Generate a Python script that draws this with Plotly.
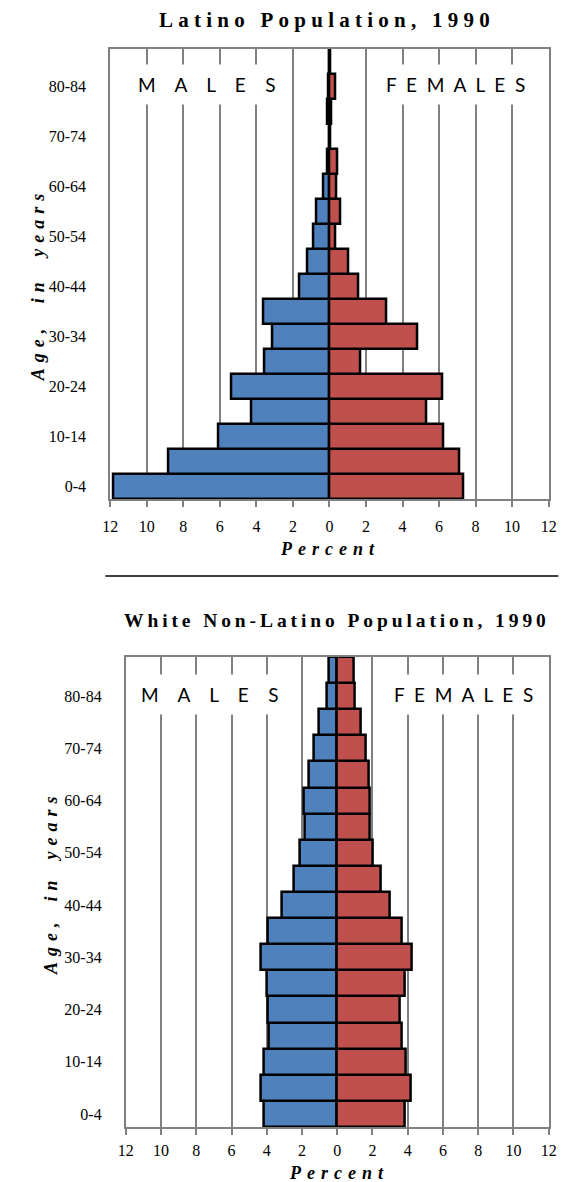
import plotly.graph_objects as go

# ---------------- data ----------------
age_groups = ["0-4", "5-9", "10-14", "15-19", "20-24", "25-29", "30-34", "35-39",
              "40-44", "45-49", "50-54", "55-59", "60-64", "65-69", "70-74",
              "75-79", "80-84", "85+"]
age_tick_labels = ["0-4", "10-14", "20-24", "30-34", "40-44", "50-54", "60-64", "70-74", "80-84"]

latino_male = [11.85, 8.85, 6.1, 4.3, 5.35, 3.55, 3.15, 3.65, 1.65, 1.21, 0.89, 0.72,
               0.33, 0.11, 0.02, 0.1, 0.05, 0.02]
latino_female = [7.3, 7.1, 6.25, 5.3, 6.2, 1.7, 4.8, 3.1, 1.6, 1.02, 0.34, 0.57,
                 0.39, 0.43, 0.03, 0.12, 0.3, 0.02]

white_male = [4.16, 4.36, 4.16, 3.9, 3.93, 4.01, 4.36, 3.93, 3.16, 2.47, 2.12, 1.82,
              1.9, 1.6, 1.33, 1.03, 0.61, 0.46]
white_female = [3.81, 4.17, 3.88, 3.66, 3.57, 3.81, 4.25, 3.66, 2.96, 2.5, 2.01, 1.86,
                1.86, 1.79, 1.64, 1.36, 1.0, 0.94]

x_tick_vals = [-12, -10, -8, -6, -4, -2, 0, 2, 4, 6, 8, 10, 12]
x_tick_text = ["12", "10", "8", "6", "4", "2", "0", "2", "4", "6", "8", "10", "12"]

title_top = "Latino Population, 1990"
title_bottom = "White Non-Latino Population, 1990"
x_title = "Percent"
y_title = "Age, in years"
male_label = "MALES"
female_label = "FEMALES"

# ---------------- styling ----------------
PAGE_W, PAGE_H = 579, 1182
OFF = 8  # the page body margin
W, H = PAGE_W - OFF, PAGE_H - OFF
BLUE = "#4F81BD"
RED = "#C0504D"
GRID = "#808080"
SERIF = "Liberation Serif, Times New Roman, serif"
SANS = "Lato, Open Sans, sans-serif"


def spaced(text, sep, word_sep=None):
    words = text.split(" ")
    return (word_sep if word_sep is not None else sep + " " + sep).join(
        sep.join(list(w)) for w in words)


def px_x(v):
    return (v - OFF) / W


def px_y(v):
    return (H - (v - OFF)) / H


fig = go.Figure()

panels = [
    dict(male=latino_male, female=latino_female, xa="x", ya="y"),
    dict(male=white_male, female=white_female, xa="x2", ya="y2"),
]
for p in panels:
    fig.add_trace(go.Bar(
        y=age_groups, x=[-v for v in p["male"]], orientation="h",
        marker=dict(color=BLUE, line=dict(color="black", width=2.5)),
        xaxis=p["xa"], yaxis=p["ya"], showlegend=False, hoverinfo="skip",
    ))
    fig.add_trace(go.Bar(
        y=age_groups, x=p["female"], orientation="h",
        marker=dict(color=RED, line=dict(color="black", width=2.5)),
        xaxis=p["xa"], yaxis=p["ya"], showlegend=False, hoverinfo="skip",
    ))

xaxis_common = dict(
    range=[-12, 12], tickvals=x_tick_vals, ticktext=x_tick_text,
    showgrid=True, gridcolor=GRID, gridwidth=2, zeroline=False,
    showline=True, linecolor=GRID, linewidth=2, mirror=True,
    ticks="outside", ticklen=6, tickwidth=2, tickcolor=GRID,
    tickfont=dict(family=SERIF, size=16, color="black"),
    fixedrange=True,
)
yaxis_common = dict(
    type="category", categoryorder="array", categoryarray=age_groups,
    range=[-0.5, len(age_groups) - 0.5],
    tickvals=age_tick_labels, ticktext=age_tick_labels,
    showgrid=False, zeroline=False, ticks="",
    showline=True, linecolor=GRID, linewidth=2, mirror=True,
    tickfont=dict(family=SERIF, size=16, color="black"),
    ticklabelstandoff=19, fixedrange=True,
)

fig.update_layout(
    width=W, height=H, margin=dict(l=0, r=0, t=0, b=0),
    paper_bgcolor="white", plot_bgcolor="white",
    barmode="relative", bargap=0,
    xaxis=dict(domain=[px_x(105), px_x(556)], anchor="y", ticklabelstandoff=6, **xaxis_common),
    yaxis=dict(domain=[px_y(499), px_y(49)], anchor="x", **yaxis_common),
    xaxis2=dict(domain=[px_x(121), px_x(556)], anchor="y2", ticklabelstandoff=2, **xaxis_common),
    yaxis2=dict(domain=[px_y(1127), px_y(657)], anchor="x2", **yaxis_common),
)

ann = []


def add_text(text, x, y, font, **kw):
    ann.append(dict(text=text, x=px_x(x), y=px_y(y), xref="paper", yref="paper",
                    xanchor="center", yanchor="middle", showarrow=False, font=font, **kw))


add_text(spaced(title_top, "\u00a0", "\u00a0 \u00a0"), 325, 20,
         dict(family=SERIF, size=21, color="black", weight="bold"))
add_text(spaced(title_bottom, "\u2009", "\u2009 \u2009"), 336, 620,
         dict(family=SERIF, size=19.5, color="black", weight="bold"))

axis_title_font = dict(family=SERIF, size=18, color="black", weight="bold", style="italic")
add_text(spaced(x_title, "\u00a0\u200a"), 328, 549, axis_title_font)
add_text(spaced(x_title, "\u00a0\u200a"), 338, 1173, axis_title_font)
add_text(spaced(y_title, "\u00a0\u200a", "\u00a0\u200a \u00a0\u00a0\u00a0\u200a"), 31, 287,
         axis_title_font, textangle=-90)
add_text(spaced(y_title, "\u00a0\u200a", "\u00a0\u200a \u00a0\u00a0\u200a"), 44, 885,
         axis_title_font, textangle=-90)

sex_font = dict(family=SANS, size=19, color="black")
for (mx, fx, yy) in [(204, 460, 84), (208, 468, 694)]:
    add_text(spaced(male_label, "\u00a0\u00a0\u00a0\u00a0"), mx, yy, sex_font,
             bgcolor="white", borderpad=8)
    add_text(spaced(female_label, "\u00a0\u00a0"), fx, yy, sex_font,
             bgcolor="white", borderpad=8)

fig.update_layout(annotations=ann)

fig.add_shape(type="line", xref="paper", yref="paper",
              x0=px_x(100), x1=px_x(566), y0=px_y(576), y1=px_y(576),
              line=dict(color="black", width=1.5))

fig.write_html("out.html")
